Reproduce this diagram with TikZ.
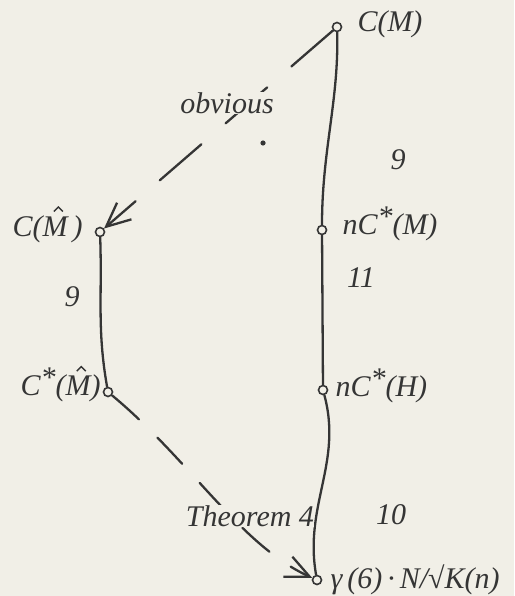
\documentclass[tikz,border=0pt]{standalone}
\usepackage{fontspec}
\setmainfont{Liberation Serif}
\usetikzlibrary{arrows.meta, positioning}
\definecolor{paper}{HTML}{F1EFE7}
\definecolor{ink}{HTML}{353535}
\newcommand\hatM{\ooalign{M\cr\hidewidth\kern0.22em\raisebox{0.8em}{\tikz[x=1pt, y=1pt]\draw[ink, line width=1.4pt] (0,0) -- (4.5,4.5) -- (9,0);}\hidewidth\cr}}
\newcommand\str{\raisebox{0.28em}{*}}

\begin{document}
\begin{tikzpicture}[x=1pt, y=-1pt,
  pt/.style={circle, draw=ink, line width=1.6pt, inner sep=0pt, minimum size=9pt},
  lbl/.style={inner sep=0pt, text=ink, font=\fontsize{30}{32}\selectfont\itshape},
  ln/.style={draw=ink, line width=2.3pt, line cap=round},
  imp/.style={ln, -{Straight Barb[length=24pt, width=22pt, line width=2.3pt]}}]
  \fill[paper] (0,0) rectangle (514,596);
  \useasboundingbox (0,0) rectangle (514,596);
  % points
  \node[pt] (cM) at (337,27) {};
  \node[pt] (nCM) at (322,230) {};
  \node[pt] (nCH) at (323,390) {};
  \node[pt] (gam) at (317,580) {};
  \node[pt] (cMh) at (100,232) {};
  \node[pt] (csMh) at (108,392) {};
  % their names
  \node[lbl, right=15pt of cM, yshift=3pt] (cMt) {C(M)};
  \node[lbl, right=15pt of nCM, yshift=6pt] (nCMt) {nC\str(M)};
  \node[lbl, right=7pt of nCH, yshift=4pt] (nCHt) {nC\str(H)};
  \node[lbl, right=8pt of gam] (gamt) {γ\,(6)\,·\,N/√K(n)};
  \node[lbl, left=12pt of cMh, yshift=3pt] (cMht) {C(\hatM\,)};
  \node[lbl, left=2pt of csMh, yshift=7pt] (csMht) {C\str(\hatM)};
  % solid links
  \draw[ln] (cM) .. controls (339,100) and (322,150) .. (nCM);
  \draw[ln] (nCM) -- (nCH);
  \draw[ln] (nCH) to[out=-75, in=100] (gam);
  \draw[ln] (cMh) to[out=-88, in=100] (csMh);
  % implications
  \draw[imp, dash pattern=on 55pt off 32pt] (cM) -- (cMh);
  \draw[imp, dash pattern=on 36pt off 26pt] (csMh) .. controls (190,460) and (240,545) .. (gam);
  % remarks
  \node[lbl, fill=paper] (obv) at (227,103) {obvious};
  \fill[ink] (263,143) circle (2.6pt);
  \node[lbl] (n9a) at (398,160) {9};
  \node[lbl] (n9b) at (72,297) {9};
  \node[lbl] (n11) at (361,278) {11};
  \node[lbl, fill=paper] (thm) at (250,516) {Theorem 4};
  \node[lbl] (n10) at (391,515) {10};
\end{tikzpicture}
\end{document}
